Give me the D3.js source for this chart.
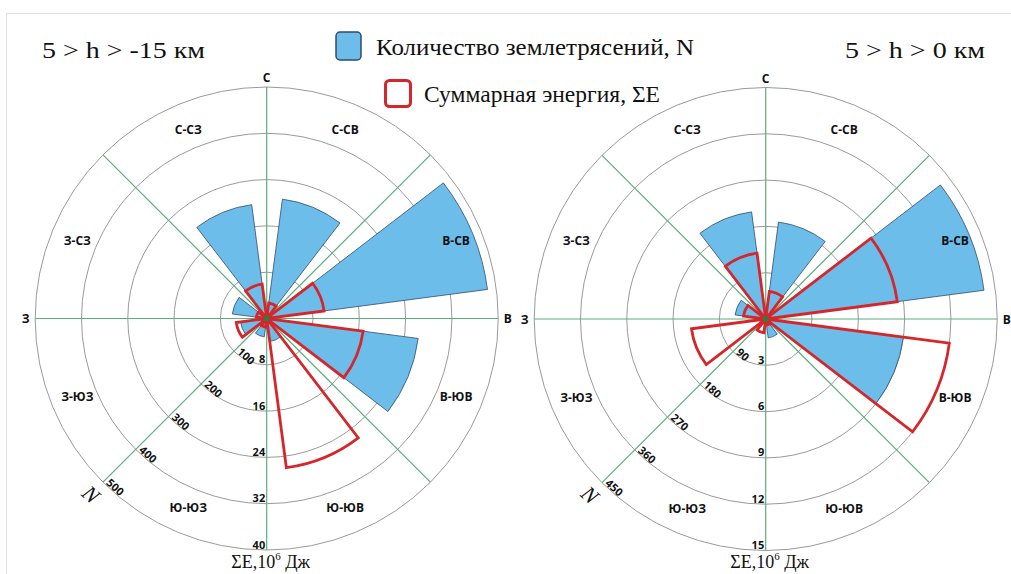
<!DOCTYPE html>
<html><head><meta charset="utf-8">
<script src="https://cdn.jsdelivr.net/npm/d3@7"></script>
<style>
html,body{margin:0;padding:0;background:#fff;}
svg{display:block;}
.dir{font-family:"Open Sans",sans-serif;font-weight:700;font-size:12px;fill:#111;}
.tick{font-family:"Open Sans",sans-serif;font-weight:700;font-size:11px;fill:#111;}
.serif{font-family:"Liberation Serif","Times New Roman",serif;fill:#111;}
</style></head>
<body>
<svg id="chart" width="1011" height="574"></svg>
<script>
// ---- data ----
const directions = ["С-СВ","В-СВ","В-ЮВ","Ю-ЮВ","Ю-ЮЗ","З-ЮЗ","З-СЗ","С-СЗ"];
const cardinals = ["С","В","Ю","З"];
// left rose: 5 > h > -15 km
const countLeft  = [260, 481, 330, 50, 40, 57, 75, 248];
const energyLeft = [2.7, 10, 16.8, 26, 1.5, 5.3, 1.8, 6];
const countTicksLeft  = [100, 200, 300, 400, 500];
const energyTicksLeft = [8, 16, 24, 32, 40];
// right rose: 5 > h > 0 km
const countRight  = [190, 428, 270, 37, 10, 12, 60, 210];
const energyRight = [1.8, 8.6, 12.0, 0.4, 0.9, 4.85, 1.45, 4.3];
const countTicksRight  = [90, 180, 270, 360, 450];
const energyTicksRight = [3, 6, 9, 12, 15];
const titles = ["5 > h > -15 км", "5 > h > 0 км"];
const legendLabels = ["Количество землетрясений, N", "Суммарная энергия, ΣE"];

// ---- drawing ----
const svg = d3.select("#chart");
const R = 231.5;
const BLUE = "#6dbdeb", BLUE_STROKE = "#2e4c6b", RED = "#d4262b", GREEN = "#5aae7c", RING = "#9a9a9a";

svg.append("rect").attr("x",6.5).attr("y",13.5).attr("width",1100).attr("height",700)
  .attr("fill","none").attr("stroke","#e2e2e2");

function rose(cx, cy, counts, energies, nTicks, eTicks, title, titleX, titleW) {
  const g = svg.append("g").attr("transform", `translate(${cx},${cy})`);
  const ang = d3.scaleBand().domain(directions).range([0, 2*Math.PI]).paddingInner(1/3).paddingOuter(1/6);
  const rN = d3.scaleLinear().domain([0, d3.max(nTicks)]).range([0, R]);
  const rE = d3.scaleLinear().domain([0, d3.max(eTicks)]).range([0, R]);

  // rings
  g.selectAll("circle.ring").data(eTicks).join("circle").attr("class","ring")
    .attr("r", d => rE(d)).attr("fill","none").attr("stroke",RING).attr("stroke-width",1);

  // blue bars
  const arcN = d3.arc().innerRadius(0)
    .startAngle(d => ang(d.dir)).endAngle(d => ang(d.dir)+ang.bandwidth())
    .outerRadius(d => rN(d.v));
  g.selectAll("path.n").data(directions.map((d,i)=>({dir:d,v:counts[i]}))).join("path")
    .attr("class","n").attr("d", arcN).attr("fill",BLUE).attr("stroke",BLUE_STROKE).attr("stroke-width",0.8);

  // green axes (8 directions)
  const axisAngles = d3.range(8).map(i => i*Math.PI/4);
  g.selectAll("line.ax").data(axisAngles).join("line").attr("class","ax")
    .attr("x1",0).attr("y1",0)
    .attr("x2", a => R*Math.sin(a)).attr("y2", a => -R*Math.cos(a))
    .attr("stroke",GREEN).attr("stroke-width",1.2);

  // red energy outlines
  const arcE = d3.arc().innerRadius(0)
    .startAngle(d => ang(d.dir)).endAngle(d => ang(d.dir)+ang.bandwidth())
    .outerRadius(d => rE(d.v));
  g.selectAll("path.e").data(directions.map((d,i)=>({dir:d,v:energies[i]}))).join("path")
    .attr("class","e").attr("d", arcE).attr("fill","none").attr("stroke",RED)
    .attr("stroke-width",2.8).attr("stroke-linejoin","miter");

  g.append("circle").attr("r",3).attr("fill","#2f7d3f");

  // direction labels
  const lr = 205;
  g.selectAll("text.dir").data(directions).join("text").attr("class","dir")
    .attr("x", d => lr*Math.sin(ang(d)+ang.bandwidth()/2))
    .attr("y", d => -lr*Math.cos(ang(d)+ang.bandwidth()/2))
    .attr("text-anchor","middle").attr("dominant-baseline","central").text(d => d);
  const cr = 241;
  g.selectAll("text.card").data(cardinals.filter(c => c !== "Ю")).join("text").attr("class","dir")
    .attr("x", c => cr*Math.sin(cardinals.indexOf(c)*Math.PI/2))
    .attr("y", c => -cr*Math.cos(cardinals.indexOf(c)*Math.PI/2))
    .attr("text-anchor","middle").attr("dominant-baseline","central").text(c => c);

  // energy tick labels along south axis
  g.selectAll("text.et").data(eTicks).join("text").attr("class","tick")
    .attr("x",-1.5).attr("y", d => rE(d) - 1.5).attr("text-anchor","end").text(d => d);

  // count tick labels along SW axis
  const sw = 5*Math.PI/4;
  g.selectAll("text.nt").data(nTicks).join("text").attr("class","tick")
    .attr("transform", d => `translate(${rN(d)*Math.sin(sw)},${-rN(d)*Math.cos(sw)}) rotate(42)`)
    .attr("x",3).attr("y",-0.5).text(d => d);
  g.append("text").attr("class","serif")
    .attr("transform", `translate(${(R+17)*Math.sin(sw)},${-(R+17)*Math.cos(sw)}) rotate(42)`)
    .attr("text-anchor","middle").attr("dominant-baseline","central")
    .style("font-style","italic").style("font-size","22px").text("N");

  // energy axis title
  const t = g.append("text").attr("class","serif").attr("x",4).attr("y",R+17.5)
    .attr("text-anchor","middle").style("font-size","18px");
  t.append("tspan").text("ΣE,10");
  t.append("tspan").attr("dy",-8).style("font-size","11px").text("6");
  t.append("tspan").attr("dy",8).text(" Дж");

  svg.append("text").attr("class","serif").attr("x",titleX).attr("y",58)
    .style("font-size","24px").attr("textLength",titleW).attr("lengthAdjust","spacingAndGlyphs").text(title);
}

rose(266.7, 318.5, countLeft, energyLeft, countTicksLeft, energyTicksLeft, titles[0], 42, 163);
rose(765.7, 319, countRight, energyRight, countTicksRight, energyTicksRight, titles[1], 845, 140);

// legend
const lg = svg.append("g");
lg.append("rect").attr("x",336).attr("y",32).attr("width",25).attr("height",28).attr("rx",4)
  .attr("fill",BLUE).attr("stroke",BLUE_STROKE).attr("stroke-width",1.5);
lg.append("text").attr("class","serif").attr("x",376).attr("y",55).style("font-size","23px")
  .attr("textLength",318).attr("lengthAdjust","spacingAndGlyphs").text(legendLabels[0]);
lg.append("rect").attr("x",385.5).attr("y",80.5).attr("width",25).attr("height",26).attr("rx",4)
  .attr("fill","#fff").attr("stroke",RED).attr("stroke-width",3);
lg.append("text").attr("class","serif").attr("x",424).attr("y",102).style("font-size","23px")
  .attr("textLength",236).attr("lengthAdjust","spacingAndGlyphs").text(legendLabels[1]);
</script>
</body></html>
